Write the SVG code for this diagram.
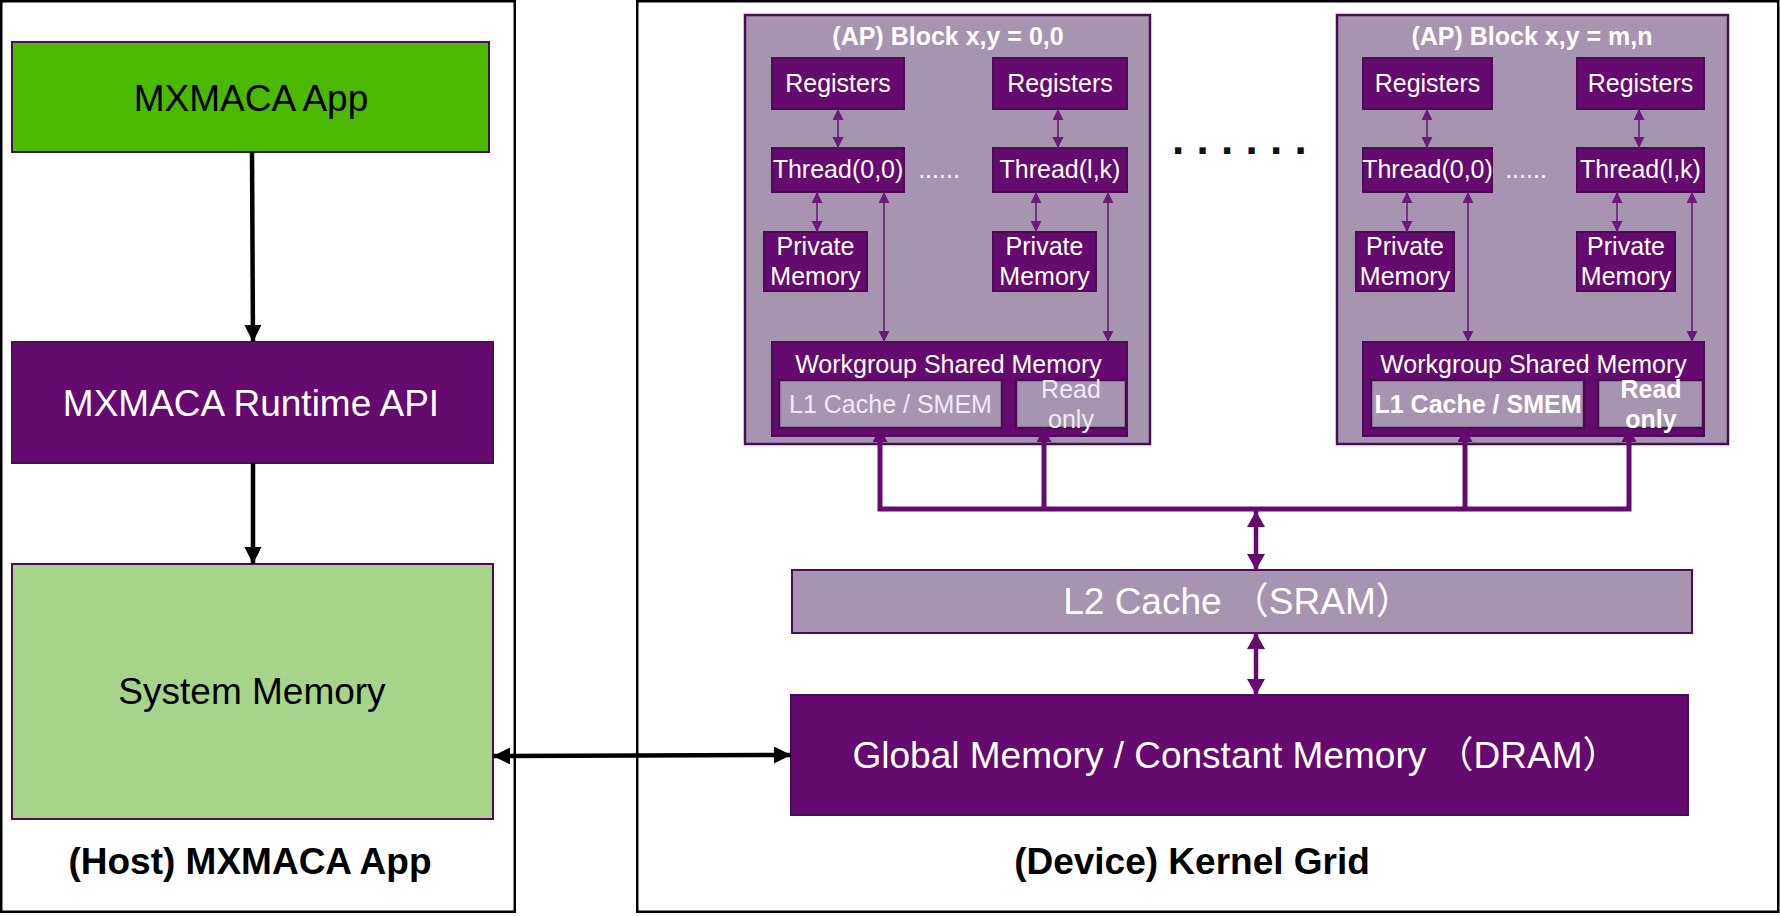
<svg xmlns="http://www.w3.org/2000/svg" width="1780" height="916" viewBox="0 0 1780 916">
<style>
  text { font-family: "Liberation Sans", Arial, "Noto Sans CJK SC", sans-serif; }
  .panel { fill: #ffffff; stroke: #000000; stroke-width: 2.5; }
  .dark { fill: #650a6e; stroke: #4b0c55; stroke-width: 2; }
  .light { fill: #a794b0; stroke: #4b0c55; stroke-width: 2.5; }
  .green { fill: #4bb900; stroke: #4b0c55; stroke-width: 2; }
  .lgreen { fill: #a5d48a; stroke: #4b0c55; stroke-width: 2; }
  .w24 { fill: #ffffff; font-size: 25px; text-anchor: middle; }
  .w24b { fill: #ffffff; font-size: 25px; font-weight: bold; text-anchor: middle; }
  .title { fill: #ffffff; font-size: 25px; font-weight: bold; text-anchor: middle; }
  .thin { stroke: #6a1a78; stroke-width: 1.6; fill: none; }
  .blk { stroke: #000000; stroke-width: 4.5; fill: none; }
  .bus { stroke: #650a6e; stroke-width: 5; fill: none; }
  .l2 { stroke: #650a6e; stroke-width: 4.5; fill: none; }
</style>
<defs>
  <marker id="mBlk" markerUnits="userSpaceOnUse" markerWidth="18" markerHeight="18" refX="17" refY="8.5" orient="auto-start-reverse">
    <path d="M0,0 L17,8.5 L0,17 z" fill="#000000"/>
  </marker>
  <marker id="mThin" markerUnits="userSpaceOnUse" markerWidth="12" markerHeight="12" refX="11" refY="5.5" orient="auto-start-reverse">
    <path d="M0,0 L11,5.5 L0,11 z" fill="#6a1a78"/>
  </marker>
  <marker id="mL2" markerUnits="userSpaceOnUse" markerWidth="18" markerHeight="19" refX="16" refY="9" orient="auto-start-reverse">
    <path d="M0,0 L16,9 L0,18 z" fill="#650a6e"/>
  </marker>
  <marker id="mBus" markerUnits="userSpaceOnUse" markerWidth="16" markerHeight="16" refX="14" refY="7.5" orient="auto-start-reverse">
    <path d="M0,0 L14,7.5 L0,15 z" fill="#650a6e"/>
  </marker>
</defs>

<rect width="1780" height="916" fill="#ffffff"/>

<g id="host-panel">
  <rect class="panel" x="1.25" y="1.25" width="513.5" height="910.5"/>
  <text x="250" y="874" font-size="37" font-weight="bold" text-anchor="middle" fill="#000000">(Host) MXMACA App</text>
</g>
<g id="device-panel">
  <rect class="panel" x="637.25" y="1.25" width="1141" height="910.5"/>
  <text x="1192" y="874" font-size="37" font-weight="bold" text-anchor="middle" fill="#000000">(Device) Kernel Grid</text>
</g>

<g id="mxmaca-app">
  <rect class="green" x="12" y="42" width="477" height="110"/>
  <text x="251" y="111" font-size="37" text-anchor="middle" fill="#000000">MXMACA App</text>
</g>
<g id="runtime-api">
  <rect class="dark" x="12" y="342" width="481" height="121"/>
  <text x="251" y="416" font-size="37" text-anchor="middle" fill="#ffffff">MXMACA Runtime API</text>
</g>
<g id="system-memory">
  <rect class="lgreen" x="12" y="564" width="481" height="255"/>
  <text x="252" y="704" font-size="37" text-anchor="middle" fill="#000000">System Memory</text>
</g>

<g id="block-0-0">
  <rect class="light" x="745" y="15" width="405" height="429"/>
  <text class="title" x="948" y="45">(AP) Block x,y = 0,0</text>
  <rect class="dark" x="772" y="58" width="132" height="51"/>
  <text class="w24" x="838" y="92">Registers</text>
  <rect class="dark" x="993" y="58" width="134" height="51"/>
  <text class="w24" x="1060" y="92">Registers</text>
  <rect class="dark" x="772" y="148" width="132" height="44"/>
  <text class="w24" x="838" y="178">Thread(0,0)</text>
  <rect class="dark" x="993" y="148" width="134" height="44"/>
  <text class="w24" x="1060" y="178">Thread(l,k)</text>
  <text class="w24" x="939" y="178">......</text>
  <rect class="dark" x="764" y="232" width="103" height="59"/>
  <text class="w24" x="815.5" y="255">Private</text>
  <text class="w24" x="815.5" y="285">Memory</text>
  <rect class="dark" x="993" y="232" width="103" height="59"/>
  <text class="w24" x="1044.5" y="255">Private</text>
  <text class="w24" x="1044.5" y="285">Memory</text>
  <rect class="dark" x="772" y="342" width="355" height="94"/>
  <text class="w24" x="948.5" y="373">Workgroup Shared Memory</text>
  <rect class="light" x="779" y="380" width="223" height="48"/>
  <text class="w24" x="890.5" y="413" style="fill:#f0eaf3">L1 Cache / SMEM</text>
  <rect class="light" x="1016" y="380" width="110" height="48"/>
  <text class="w24" x="1071" y="398" style="fill:#f0eaf3">Read</text>
  <text class="w24" x="1071" y="428" style="fill:#f0eaf3">only</text>
</g>

<g id="block-m-n">
  <rect class="light" x="1337" y="15" width="391" height="429"/>
  <text class="title" x="1532" y="45">(AP) Block x,y = m,n</text>
  <rect class="dark" x="1363" y="58" width="129" height="51"/>
  <text class="w24" x="1427.5" y="92">Registers</text>
  <rect class="dark" x="1577" y="58" width="127" height="51"/>
  <text class="w24" x="1640.5" y="92">Registers</text>
  <rect class="dark" x="1363" y="148" width="129" height="44"/>
  <text class="w24" x="1427.5" y="178">Thread(0,0)</text>
  <rect class="dark" x="1577" y="148" width="127" height="44"/>
  <text class="w24" x="1640.5" y="178">Thread(l,k)</text>
  <text class="w24" x="1526" y="178">......</text>
  <rect class="dark" x="1356" y="232" width="98" height="59"/>
  <text class="w24" x="1405" y="255">Private</text>
  <text class="w24" x="1405" y="285">Memory</text>
  <rect class="dark" x="1577" y="232" width="98" height="59"/>
  <text class="w24" x="1626" y="255">Private</text>
  <text class="w24" x="1626" y="285">Memory</text>
  <rect class="dark" x="1363" y="342" width="341" height="94"/>
  <text class="w24" x="1533.5" y="373">Workgroup Shared Memory</text>
  <rect class="light" x="1371" y="380" width="213" height="48"/>
  <text class="w24b" x="1478" y="413">L1 Cache / SMEM</text>
  <rect class="light" x="1598" y="380" width="105" height="48"/>
  <text class="w24b" x="1651" y="398">Read</text>
  <text class="w24b" x="1651" y="428">only</text>
</g>

<g id="ellipsis">
  <text x="1172" y="154" font-family="DejaVu Sans" font-size="44" font-weight="bold" letter-spacing="12.3" fill="#111111">......</text>
</g>

<g id="l2-cache">
  <rect class="light" x="792" y="570" width="900" height="63" style="stroke-width:2"/>
  <text x="1238" y="614" font-size="37" text-anchor="middle" fill="#ffffff">L2 Cache （SRAM）</text>
</g>
<g id="global-memory">
  <rect class="dark" x="791" y="695" width="897" height="120"/>
  <text x="1236" y="768" font-size="37" text-anchor="middle" fill="#ffffff">Global Memory / Constant Memory （DRAM）</text>
</g>

<g id="connectors">
  <line class="blk" x1="252" y1="152" x2="253" y2="342" marker-end="url(#mBlk)"/>
  <line class="blk" x1="253" y1="463" x2="253" y2="564" marker-end="url(#mBlk)"/>
  <line class="blk" x1="493" y1="756" x2="791" y2="755" marker-start="url(#mBlk)" marker-end="url(#mBlk)"/>

  <line class="thin" x1="838" y1="109" x2="838" y2="148" marker-start="url(#mThin)" marker-end="url(#mThin)"/>
  <line class="thin" x1="1058" y1="109" x2="1058" y2="148" marker-start="url(#mThin)" marker-end="url(#mThin)"/>
  <line class="thin" x1="817" y1="192" x2="817" y2="232" marker-start="url(#mThin)" marker-end="url(#mThin)"/>
  <line class="thin" x1="1036" y1="192" x2="1036" y2="232" marker-start="url(#mThin)" marker-end="url(#mThin)"/>
  <line class="thin" x1="884" y1="192" x2="884" y2="342" marker-start="url(#mThin)" marker-end="url(#mThin)"/>
  <line class="thin" x1="1108" y1="192" x2="1108" y2="342" marker-start="url(#mThin)" marker-end="url(#mThin)"/>

  <line class="thin" x1="1427" y1="109" x2="1427" y2="148" marker-start="url(#mThin)" marker-end="url(#mThin)"/>
  <line class="thin" x1="1639" y1="109" x2="1639" y2="148" marker-start="url(#mThin)" marker-end="url(#mThin)"/>
  <line class="thin" x1="1407" y1="192" x2="1407" y2="232" marker-start="url(#mThin)" marker-end="url(#mThin)"/>
  <line class="thin" x1="1617" y1="192" x2="1617" y2="232" marker-start="url(#mThin)" marker-end="url(#mThin)"/>
  <line class="thin" x1="1468" y1="192" x2="1468" y2="342" marker-start="url(#mThin)" marker-end="url(#mThin)"/>
  <line class="thin" x1="1692" y1="192" x2="1692" y2="342" marker-start="url(#mThin)" marker-end="url(#mThin)"/>

  <polyline class="bus" points="880,428 880,509 1629,509 1629,428" marker-start="url(#mBus)" marker-end="url(#mBus)"/>
  <line class="bus" x1="1044" y1="509" x2="1044" y2="428" marker-end="url(#mBus)"/>
  <line class="bus" x1="1465" y1="509" x2="1465" y2="428" marker-end="url(#mBus)"/>

  <line class="l2" x1="1256" y1="511" x2="1256" y2="570" marker-start="url(#mL2)" marker-end="url(#mL2)"/>
  <line class="l2" x1="1256" y1="633" x2="1256" y2="695" marker-start="url(#mL2)" marker-end="url(#mL2)"/>
</g>
</svg>
